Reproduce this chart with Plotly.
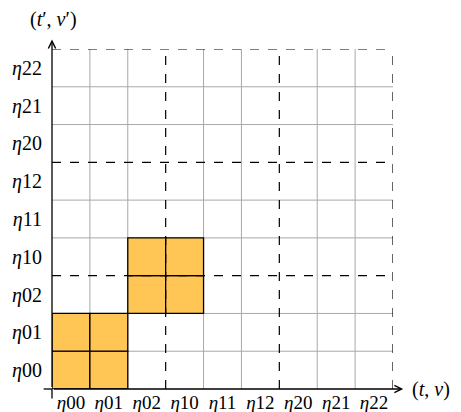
import plotly.graph_objects as go

labels = ["00", "01", "02", "10", "11", "12", "20", "21", "22"]
# highlighted cells (column index, row index)
hl_cols = [0, 1, 0, 1, 2, 3, 2, 3]
hl_rows = [0, 0, 1, 1, 2, 2, 3, 3]
n = len(labels)
block = 3

tick_text = ["<i>η</i>" + s for s in labels]
tick_vals = [i + 0.5 for i in range(n)]

FONT = "Liberation Serif"
W, H = 453, 404
L, R, T, B = 44, 67.5, 41, 23
pw = W - L - R
ph = H - T - B

fig = go.Figure()
shapes = []
# gray grid
for k in range(1, n):
    if k % block == 0:
        continue
    shapes.append(dict(type="line", xref="x", yref="y", x0=k, x1=k, y0=0, y1=n,
                       line=dict(color="#a8a8a8", width=1)))
    shapes.append(dict(type="line", xref="x", yref="y", x0=0, x1=n, y0=k, y1=k,
                       line=dict(color="#a8a8a8", width=1)))
# highlighted cells
for c, r in zip(hl_cols, hl_rows):
    shapes.append(dict(type="rect", xref="x", yref="y", x0=c, x1=c + 1, y0=r, y1=r + 1,
                       fillcolor="#FFC655", line=dict(color="black", width=1.3)))
# dashed block lines
for k in range(block, n + 1, block):
    shapes.append(dict(type="line", xref="x", yref="y", x0=k, x1=k, y0=0, y1=n,
                       line=dict(color="black", width=1.2, dash="dash")))
    shapes.append(dict(type="line", xref="x", yref="y", x0=0, x1=n, y0=k, y1=k,
                       line=dict(color="black", width=1.2, dash="dash")))

# axes (paper coords so they can extend past the grid)
def px(v):
    return v / n

shapes.append(dict(type="line", xref="paper", yref="paper", x0=px(-0.22), x1=px(0), y0=0, y1=0,
                   line=dict(color="black", width=1.3)))
shapes.append(dict(type="line", xref="paper", yref="paper", x0=0, x1=0, y0=px(-0.25), y1=px(0),
                   line=dict(color="black", width=1.3)))

annotations = [
    # x axis arrow
    dict(x=px(9.27), y=0, xref="paper", yref="paper", ax=-int(9.27 * pw / n), ay=0,
         axref="pixel", ayref="pixel", showarrow=True, arrowhead=5, arrowsize=1.1,
         arrowwidth=1.3, arrowcolor="black", text=""),
    # y axis arrow
    dict(x=0, y=px(9.25), xref="paper", yref="paper", ax=0, ay=int(9.25 * ph / n),
         axref="pixel", ayref="pixel", showarrow=True, arrowhead=5, arrowsize=1.1,
         arrowwidth=1.3, arrowcolor="black", text=""),
    dict(x=px(0.05), y=px(9.43), xref="paper", yref="paper", text="(<i>t</i>′, <i>ν</i>′)", showarrow=False,
         font=dict(family=FONT, size=20, color="black"), xanchor="center", yanchor="bottom"),
    dict(x=px(9.45), y=0, xref="paper", yref="paper", text="(<i>t</i>, <i>ν</i>)", showarrow=False,
         font=dict(family=FONT, size=20, color="black"), xanchor="left", yanchor="middle"),
]

fig.update_layout(
    width=W, height=H,
    margin=dict(l=L, r=R, t=T, b=B, autoexpand=False),
    paper_bgcolor="white", plot_bgcolor="white",
    shapes=shapes, annotations=annotations,
    showlegend=False,
    xaxis=dict(range=[0, n], tickvals=tick_vals, ticktext=tick_text, showgrid=False,
               zeroline=False, showline=False, ticks="", ticklabelstandoff=0, automargin=False,
               tickfont=dict(family=FONT, size=19, color="black"), fixedrange=True),
    yaxis=dict(range=[0, n], tickvals=tick_vals, ticktext=tick_text, showgrid=False,
               zeroline=False, showline=False, ticks="", ticklabelstandoff=9, automargin=False,
               tickfont=dict(family=FONT, size=20, color="black"), fixedrange=True),
)
fig.write_html("out.html")
